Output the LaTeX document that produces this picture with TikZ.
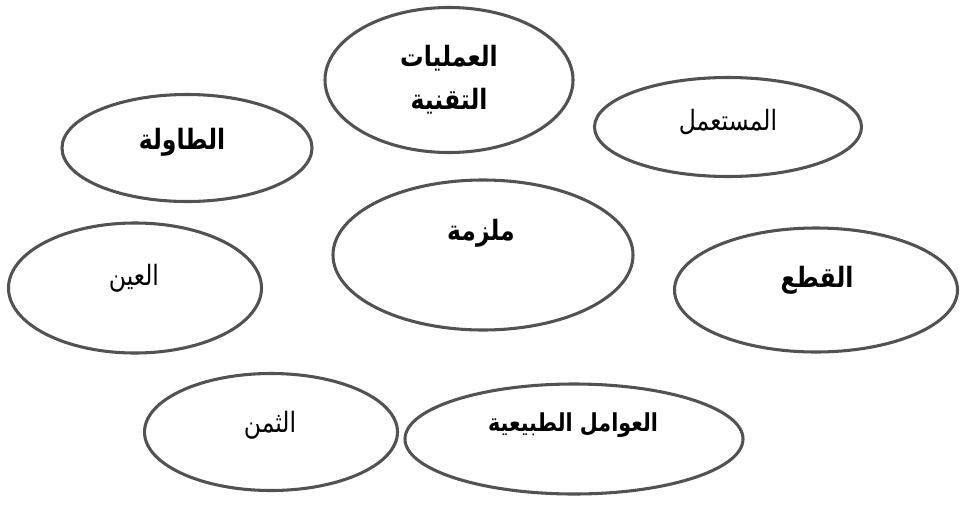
\documentclass[tikz,border=0pt]{standalone}
\usepackage{fontspec}
\usetikzlibrary{shapes.geometric}
\TeXXeTstate=1
\newfontfamily\arabicfont[Script=Arabic, FakeStretch=0.84]{DejaVu Sans}
\tikzset{bubble/.style 2 args={ellipse, draw=black!68, line width=2.3pt,
    inner sep=0pt, minimum width=#1*0.75pt, minimum height=#2*0.75pt}}
\tikzset{word/.style={font=\arabicfont\fontsize{21}{26}\selectfont, inner sep=0pt, align=center}}
\tikzset{bword/.style={word, font=\arabicfont\bfseries\fontsize{21}{26}\selectfont}}

\begin{document}
\begin{tikzpicture}[x=0.75pt, y=-0.75pt]

  \useasboundingbox (0,0) rectangle (963,507);

  % the ellipses
  \node[bubble={248}{145}] (tech)  at (449,  80) {};
  \node[bubble={267}{99}]  (user)  at (728, 127) {};
  \node[bubble={250}{107}] (table) at (187, 148) {};
  \node[bubble={300}{150}] (vise)  at (483, 255) {};
  \node[bubble={253}{130}] (eye)   at (135, 288) {};
  \node[bubble={283}{124}] (cut)   at (816, 290) {};
  \node[bubble={253}{117}] (price) at (271, 432) {};
  \node[bubble={338}{110}] (nature) at (574, 439) {};

  % the words
  \node[bword] (techT)  at (449,  80) {\beginR العمليات\endR\\[6pt] \beginR التقنية\endR};
  \node[word]  (userT)  at (728, 122) {\beginR المستعمل\endR};
  \node[bword] (tableT) at (182, 142) {\beginR الطاولة\endR};
  \node[bword] (viseT)  at (481, 233) {\beginR ملزمة\endR};
  \node[word]  (eyeT)   at (134, 278) {\beginR العين\endR};
  \node[bword] (cutT)   at (817, 280) {\beginR القطع\endR};
  \node[word]  (priceT) at (270, 425) {\beginR الثمن\endR};
  \node[bword, font=\arabicfont\bfseries\fontsize{18.5}{22}\selectfont]
    (natureT) at (573, 425) {\beginR العوامل الطبيعية\endR};

\end{tikzpicture}
\end{document}
